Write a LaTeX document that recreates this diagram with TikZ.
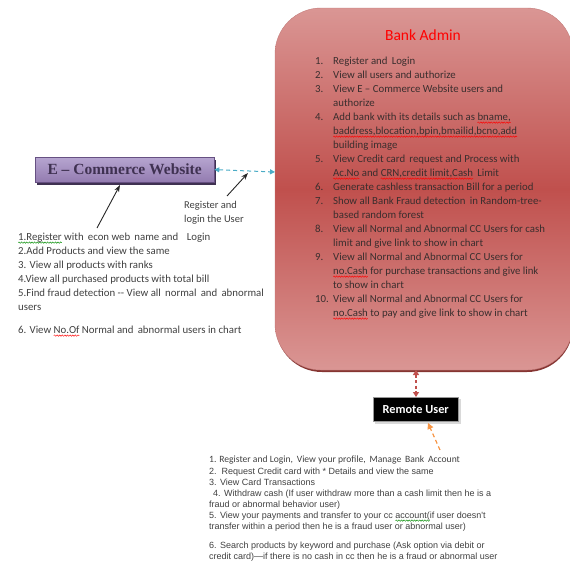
\documentclass[tikz,border=0pt]{standalone}
\usepackage{fontspec}
\setmainfont{Carlito}
\newfontfamily\arialf{Liberation Sans}
\newfontfamily\timesf{Liberation Serif}
\usetikzlibrary{arrows.meta,decorations.pathmorphing}
\newsavebox\sqbox
\newlength\sqlen
\newcommand\squig[2]{\sbox\sqbox{#2}\setlength\sqlen{\wd\sqbox}\leavevmode\rlap{\tikz[overlay,baseline=0pt,x=1pt,y=1pt]\draw[#1,line width=0.45pt,decorate,decoration={snake,amplitude=0.7pt,segment length=2.6pt}] (0pt,-2.6pt) -- (\sqlen,-2.6pt);}\usebox\sqbox}
\newcommand\redsq[1]{\squig{red}{#1}}
\newcommand\greensq[1]{\squig{green!55!black}{#1}}
\definecolor{bankmid}{HTML}{C0504D}
\definecolor{banklight}{HTML}{DA9694}
\definecolor{bankedge}{HTML}{A8423F}
\definecolor{purplelight}{HTML}{B6A5D0}
\definecolor{purpledark}{HTML}{8064A2}
\definecolor{purpletext}{HTML}{3F3151}
\definecolor{linkblue}{HTML}{4BACC6}
\definecolor{linkorange}{HTML}{F79646}
\definecolor{listtext}{HTML}{3A2E2E}
\definecolor{graytext}{HTML}{404040}
\tikzset{
  banknum/.style={anchor=base west,inner sep=0,font=\fontsize{10.8}{14}\selectfont,text=listtext},
  bankitem/.style={anchor=base west,inner sep=0,align=left,font=\fontsize{10.8}{14}\selectfont,text=listtext},
  ecitem/.style={anchor=base west,inner sep=0,align=left,font=\fontsize{10.8}{14}\selectfont,text=graytext},
  ruitem/.style={anchor=base west,inner sep=0,align=left,font=\arialf\fontsize{9}{11}\selectfont,text=graytext},
  blackarrow/.style={-{Stealth[length=7pt,width=5pt]},line width=0.9pt,black!85},
}
\begin{document}
\begin{tikzpicture}[x=1pt,y=-1pt]
\useasboundingbox (0,0) rectangle (570,562);
% Bank Admin box
\fill[bankedge!80!black,rounded corners=46pt] (276,10) rectangle (573,372);
\path[rounded corners=46pt,top color=banklight,bottom color=banklight,middle color=bankmid,draw=bankedge!70,line width=0.4pt]
  (275,8) rectangle (573,370);
\node[coordinate] (bankW) at (275,172) {};
\node[coordinate] (bankS) at (416,370) {};
\node[text=red,font=\fontsize{15.5}{18}\selectfont,anchor=base] (banktitle) at (423,40) {Bank Admin};
% bank list (y = baseline of last line of each item)
\node[banknum] (n1) at (315,64) {1.};
\node[bankitem] (i1) at (333,64) {Register and\, Login};
\node[banknum] (n2) at (315,78) {2.};
\node[bankitem] (i2) at (333,78) {View all users and authorize};
\node[banknum] (n3) at (315,92) {3.};
\node[bankitem] (i3) at (333,106) {View E – Commerce Website users and\\authorize};
\node[banknum] (n4) at (315,120) {4.};
\node[bankitem] (i4) at (333,148) {Add bank with its details such as \redsq{bname,}\\\redsq{baddress,blocation,bpin,bmailid,bcno,add}\\building image};
\node[banknum] (n5) at (315,162) {5.};
\node[bankitem] (i5) at (333,176) {View Credit card\, request and Process with\\\redsq{Ac.No} and \redsq{CRN,credit limit,Cash}\, Limit};
\node[banknum] (n6) at (315,190) {6.};
\node[bankitem] (i6) at (333,190) {Generate cashless transaction Bill for a period};
\node[banknum] (n7) at (315,204) {7.};
\node[bankitem] (i7) at (333,218) {Show all Bank Fraud detection\, in Random-tree-\\based random forest};
\node[banknum] (n8) at (315,232) {8.};
\node[bankitem] (i8) at (333,246) {View all Normal and Abnormal CC Users for cash\\limit and give link to show in chart};
\node[banknum] (n9) at (315,260) {9.};
\node[bankitem] (i9) at (333,288) {View all Normal and Abnormal CC Users for\\\redsq{no.Cash} for purchase transactions and give link\\to show in chart};
\node[banknum] (n10) at (315,302) {10.};
\node[bankitem] (i10) at (333,316) {View all Normal and Abnormal CC Users for\\\redsq{no.Cash} to pay and give link to show in chart};
% E-Commerce box
\fill[purpletext] (37,160) rectangle (216,185);
\node[draw=purpledark!80!black,line width=0.3pt,top color=purplelight,bottom color=purpledark!85,
  minimum width=179pt,minimum height=25pt,inner sep=0,anchor=north west,
  font=\timesf\bfseries\fontsize{15.5}{17}\selectfont,text=purpletext] (ecom) at (35,157) {E – Commerce Website};
% blue dashed link
\draw[linkblue,line width=1pt,dash pattern=on 4pt off 3pt,{Triangle[length=5pt,width=5pt]}-{Triangle[length=5pt,width=5pt]}]
  (ecom.east) -- (bankW);
% black arrows
\node[coordinate] (regtail) at (227,196) {};
\node[coordinate] (reghead) at (248,173) {};
\draw[blackarrow] (regtail) -- (reghead);
\node[coordinate] (ectail) at (97,228) {};
\node[coordinate] (echead) at (120,185) {};
\draw[blackarrow] (ectail) -- (echead);
\node[anchor=base west,inner sep=0,align=left,font=\fontsize{10.5}{14}\selectfont,text=graytext] (reglabel) at (184,222) {Register and\\login the User};
% E-commerce list
\node[ecitem] (ec1) at (18,240) {\greensq{1.Register} with\, econ web\, name and\, \, Login};
\node[ecitem] (ec2) at (18,254) {2.Add Products and view the same};
\node[ecitem] (ec3) at (18,268) {3. View all products with ranks};
\node[ecitem] (ec4) at (18,282) {4.View all purchased products with total bill};
\node[ecitem] (ec5) at (18,310) {5.Find fraud detection -{}- View all\, normal\, and\, abnormal\\users};
\node[ecitem] (ec6) at (18,333) {6. View \redsq{No.Of} Normal and\, abnormal users in chart};
% Remote user
\fill[black!15] (375,399) rectangle (461,424);
\node[fill=black,draw=black!40,line width=0.5pt,minimum width=85pt,minimum height=24pt,inner sep=0,anchor=north west,
  text=white,font=\bfseries\fontsize{12.3}{14}\selectfont] (remote) at (373,397) {Remote User};
\draw[bankmid,line width=1.2pt,dash pattern=on 3pt off 2.5pt,{Triangle[length=5pt,width=6pt]}-{Triangle[length=5pt,width=6pt]}]
  (bankS) -- (remote.north -| bankS);
\node[coordinate] (ortail) at (440,450) {};
\node[coordinate] (orhead) at (428,423) {};
\draw[linkorange,line width=1.2pt,dash pattern=on 4pt off 3pt,-{Triangle[length=6pt,width=6pt]}] (ortail) -- (orhead);
% Remote user list
\node[anchor=base west,inner sep=0,font=\fontsize{9.6}{11}\selectfont,text=graytext] (ru1) at (209,462) {1. Register and Login,\, View your profile,\, Manage\, Bank\, Account};
\node[ruitem] (ru2) at (209,529) {2.\, Request Credit card with * Details and view the same\\3. View Card Transactions\\\, 4. Withdraw cash (If user withdraw more than a cash limit then he is a\\fraud or abnormal behavior user)\\5. View your payments and transfer to your cc \greensq{account(}if user doesn't\\transfer within a period then he is a fraud user or abnormal user)};
\node[ruitem] (ru6) at (209,559) {6. Search products by keyword and purchase (Ask option via debit or\\credit card)—if there is no cash in cc then he is a fraud or abnormal user};
\end{tikzpicture}
\end{document}
